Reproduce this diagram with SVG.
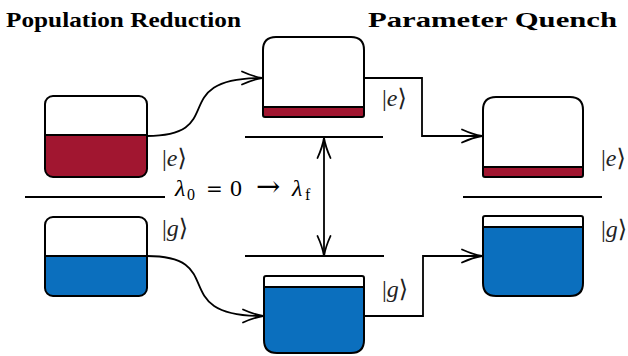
<svg xmlns="http://www.w3.org/2000/svg" width="628" height="356" viewBox="0 0 628 356">
<defs>
<style>
.box{fill:none;stroke:#000;stroke-width:2}
.red{fill:#A11630}
.blue{fill:#0B6FBE}
.div{stroke:#000;stroke-width:2}
.lvl{stroke:#000;stroke-width:2}
.con{fill:none;stroke:#000;stroke-width:1.8}
text{font-family:"Liberation Serif","Times New Roman",Tinos,"Noto Serif","DejaVu Serif",serif}
.title{font-weight:bold;font-size:22px;fill:#000}
.ket{font-size:24px;fill:#222}
.it{font-style:italic}
.lam{font-size:24px;fill:#000}
.sym{font-family:"DejaVu Serif",serif}
</style>
<marker id="arr" markerUnits="userSpaceOnUse" viewBox="-22 -8 24 16" refX="0" refY="0" markerWidth="24" markerHeight="16" orient="auto-start-reverse">
<path d="M-20,-6.5 Q-9,-1.5 0,0 Q-9,1.5 -20,6.5" fill="none" stroke="#000" stroke-width="1.8" stroke-linecap="round"/>
</marker>
</defs>
<rect width="628" height="356" fill="#fff"/>
<text class="title" x="6" y="27" textLength="235" lengthAdjust="spacingAndGlyphs">Population Reduction</text>
<text class="title" x="368" y="27" textLength="249" lengthAdjust="spacingAndGlyphs">Parameter Quench</text>
<g id="levels">
<line class="lvl" x1="25" y1="197" x2="165" y2="197"/>
<line class="lvl" x1="245" y1="137" x2="383" y2="137"/>
<line class="lvl" x1="245" y1="256" x2="384" y2="256"/>
<line class="lvl" x1="463" y1="197" x2="602" y2="197"/>
</g>
<g id="box-left-e">
<path class="red" d="M45,135 H147 V169 Q147,177 139,177 H53 Q45,177 45,169 Z"/>
<line class="div" x1="45" y1="135" x2="147" y2="135"/>
<rect class="box" x="45" y="96" width="102" height="81" rx="8"/>
</g>
<g id="box-left-g">
<path class="blue" d="M45,256 H147 V288 Q147,296 139,296 H53 Q45,296 45,288 Z"/>
<line class="div" x1="45" y1="256" x2="147" y2="256"/>
<rect class="box" x="45" y="217" width="102" height="79" rx="8"/>
</g>
<g id="box-mid-e">
<path class="red" d="M263,107 H364 V115 Q364,117 362,117 H265 Q263,117 263,115 Z"/>
<line class="div" x1="263" y1="107" x2="364" y2="107"/>
<path class="box" d="M263,115 V50 Q263,37 276,37 H351 Q364,37 364,50 V115 Q364,117 362,117 H265 Q263,117 263,115 Z"/>
</g>
<g id="box-mid-g">
<path class="blue" d="M264,287 H364 V340 Q364,353 351,353 H277 Q264,353 264,340 Z"/>
<line class="div" x1="264" y1="287" x2="364" y2="287"/>
<path class="box" d="M264,278 Q264,276 266,276 H362 Q364,276 364,278 V340 Q364,353 351,353 H277 Q264,353 264,340 Z"/>
</g>
<g id="box-right-e">
<path class="red" d="M483,167 H583 V175 Q583,177 581,177 H485 Q483,177 483,175 Z"/>
<line class="div" x1="483" y1="167" x2="583" y2="167"/>
<path class="box" d="M483,175 V110 Q483,97 496,97 H570 Q583,97 583,110 V175 Q583,177 581,177 H485 Q483,177 483,175 Z"/>
</g>
<g id="box-right-g">
<path class="blue" d="M483,227 H583 V283 Q583,296 570,296 H496 Q483,296 483,283 Z"/>
<line class="div" x1="483" y1="227" x2="583" y2="227"/>
<path class="box" d="M483,218 Q483,216 485,216 H581 Q583,216 583,218 V283 Q583,296 570,296 H496 Q483,296 483,283 Z"/>
</g>
<g id="connectors">
<path class="con" d="M147,136 C230,136 165,78 262,78" marker-end="url(#arr)"/>
<path class="con" d="M147,256 C230,256 165,316 263,316" marker-end="url(#arr)"/>
<path class="con" d="M364,78 H422 V136 H482" marker-end="url(#arr)"/>
<path class="con" d="M364,316 H423 V256 H482" marker-end="url(#arr)"/>
<path class="con" d="M324,138 V256" marker-start="url(#arr)" marker-end="url(#arr)"/>
</g>
<g id="labels">
<text class="ket" x="162" y="166">|<tspan class="it">e</tspan>⟩</text>
<text class="ket" x="162" y="236">|<tspan class="it">g</tspan>⟩</text>
<text class="ket" x="382" y="106">|<tspan class="it">e</tspan>⟩</text>
<text class="ket" x="382" y="297">|<tspan class="it">g</tspan>⟩</text>
<text class="ket" x="601" y="166">|<tspan class="it">e</tspan>⟩</text>
<text class="ket" x="601" y="237">|<tspan class="it">g</tspan>⟩</text>
<text class="lam" y="196"><tspan x="175" class="it">λ</tspan><tspan x="187" dy="4" font-size="16">0</tspan><tspan x="206" dy="-4" class="sym" font-size="20">=</tspan><tspan x="230">0</tspan><tspan x="256" class="sym" font-size="29">→</tspan><tspan x="292" class="it">λ</tspan><tspan x="305" dy="4" font-size="16">f</tspan></text>
</g>
</svg>
